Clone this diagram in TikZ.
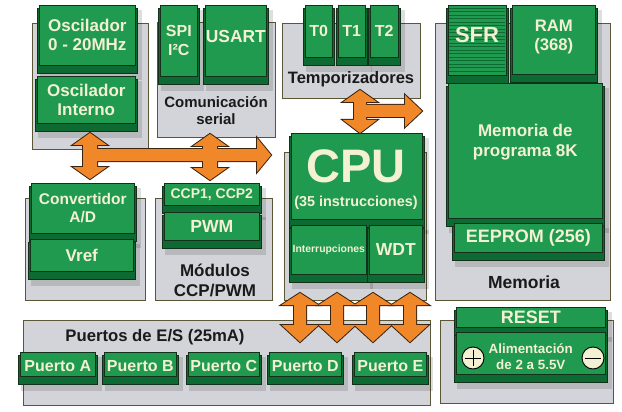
\documentclass[tikz,border=0pt]{standalone}
\usepackage{fontspec}
\setmainfont{Liberation Sans}
\definecolor{gface}{HTML}{1F9A4F}
\definecolor{gbody}{HTML}{0E6A33}
\definecolor{gline}{HTML}{12301A}
\definecolor{panelc}{HTML}{D3D4D9}
\definecolor{panelline}{HTML}{5A5636}
\definecolor{orangec}{HTML}{F0882A}
\definecolor{arrline}{HTML}{3A2410}
\definecolor{txtc}{HTML}{F3F1D2}
\definecolor{darktxt}{HTML}{1A1A1A}
\tikzset{
  panel/.style={draw=panelline, fill=panelc, line width=0.7pt, inner sep=0pt, anchor=north west},
  face/.style={draw=gline, fill=gface, line width=0.6pt, inner sep=0pt, anchor=north west},
  body/.style={draw=gline, fill=gbody, line width=0.6pt},
  bshadow/.style={fill=black, opacity=0.13},
  gtxt/.style={text=txtc, align=center, inner sep=0pt},
  ptxt/.style={text=darktxt, align=center, inner sep=0pt},
  arrout/.style={draw=arrline, line width=2pt, line join=miter},
  arrfill/.style={fill=orangec},
  sign/.style={circle, draw=black, line width=0.9pt, fill=txtc, minimum size=22pt, inner sep=0pt},
}
\newcommand\fs[2]{\fontsize{#1}{#2}\selectfont}
\newcommand\panelbox[5]{\node[panel, minimum width={#4-#2}, minimum height={#5-#3}] (#1) at (#2,#3) {};}
\newcommand\gblk[8][]{%
  \fill[bshadow] ({#3+3},{#4+5}) rectangle ({#5+5},{#6+7});
  \filldraw[body] (#3,{#4+3}) rectangle (#5,#6);
  \node[face, minimum width={#5-#3-4}, minimum height={#6-#4-8}] (#2) at ({#3+2},#4) {};
  \node[gtxt, font=\bfseries #7, #1] (#2-t) at (#2.center) {#8};
}
\newcommand\vdarr[7]{(#1,#2) -- ({#1+#6},#3) -- ({#1+#7},#3) -- ({#1+#7},#4) -- ({#1+#6},#4) -- (#1,#5) -- ({#1-#6},#4) -- ({#1-#7},#4) -- ({#1-#7},#3) -- ({#1-#6},#3) -- cycle}
\newcommand\harr[6]{(#1,{#2-#6}) -- (#3,{#2-#6}) -- (#3,{#2-#5}) -- (#4,#2) -- (#3,{#2+#5}) -- (#3,{#2+#6}) -- (#1,{#2+#6}) -- cycle}
\begin{document}
\begin{tikzpicture}[x=1pt,y=-1pt]
\useasboundingbox (0,0) rectangle (622,412);
% panels
\panelbox{posc}{32}{23}{148}{149}
\panelbox{pcom}{157}{22}{275}{137}
\panelbox{ptemp}{282}{23}{420}{98}
\panelbox{pmem}{435}{23}{610}{300}
\panelbox{pcpu}{284}{152}{426}{300}
\panelbox{pconv}{25}{198}{145}{300}
\panelbox{pccp}{155}{198}{272}{300}
\panelbox{pport}{23}{320}{430}{405}
\panelbox{preset}{440}{320}{613}{403}
% panel labels
\node[ptxt, font=\bfseries\fs{15}{17}] (lcom) at (216,111) {Comunicación\\serial};
\node[ptxt, font=\bfseries\fs{16.5}{18}] (ltemp) at (351,79) {Temporizadores};
\node[ptxt, font=\bfseries\fs{17.5}{19}] (lmem) at (524,282) {Memoria};
\node[ptxt, font=\bfseries\fs{17}{20}] (lccp) at (215,280) {Módulos\\CCP/PWM};
\node[ptxt, font=\bfseries\fs{16.7}{18}] (lport) at (155,337) {Puertos de E/S (25mA)};
% blocks
\gblk{osc1}{37}{5}{137}{73}{\fs{17}{19}}{Oscilador\\0 - 20MHz}
\gblk{osc2}{35}{76}{137}{131}{\fs{17}{19}}{Oscilador\\Interno}
\gblk{spi}{158}{5}{199}{84}{\fs{16}{19}}{SPI\\I²C}
\gblk[yshift=4pt]{usart}{203}{5}{268}{84}{\fs{17.4}{19}}{USART}
\gblk{t0}{303}{5}{334}{65}{\fs{16}{18}}{T0}
\gblk{t1}{336}{5}{367}{65}{\fs{16}{18}}{T1}
\gblk{t2}{368}{5}{400}{65}{\fs{16}{18}}{T2}
\gblk{sfr}{446}{5}{508}{83}{\fs{22}{24}}{}
\foreach \yy in {8,11.5,...,73} \draw[gbody, line width=0.9pt] (449,\yy) -- (505,\yy);
\node[gtxt, font=\bfseries\fs{22}{24}] (sfrtxt) at (477,35) {SFR};
\gblk[yshift=3pt]{ram}{510}{5}{597}{82}{\fs{16.7}{19}}{RAM\\(368)}
\gblk[yshift=9pt]{prog}{446}{83}{604}{226}{\fs{17}{20}}{Memoria de\\programa 8K}
\gblk{eeprom}{452}{223}{604}{260}{\fs{18}{20}}{EEPROM (256)}
\gblk{cpu}{289}{133}{424}{227}{\fs{14}{16}}{}
\node[gtxt, font=\bfseries\fs{47}{50}] (cputxt) at (356,166) {CPU};
\node[gtxt, font=\bfseries\fs{14.4}{16}] (instr) at (356,203) {(35 instrucciones)};
\gblk{intr}{289}{225}{368}{282}{\fs{10.4}{12}}{Interrupciones}
\gblk{wdt}{367}{225}{424}{282}{\fs{17.5}{19}}{WDT}
\gblk{conv}{29}{183}{136}{241}{\fs{15.5}{18}}{Convertidor\\A/D}
\gblk{vref}{28}{239}{135}{279}{\fs{17}{19}}{Vref}
\gblk{ccp}{162}{183}{261}{213}{\fs{14}{16}}{CCP1, CCP2}
\gblk{pwm}{162}{212}{261}{248}{\fs{17.6}{19}}{PWM}
\gblk[yshift=-2pt]{pa}{18}{352}{97}{384}{\fs{16}{18}}{Puerto A}
\gblk[yshift=-2pt]{pb}{102}{352}{178}{384}{\fs{16}{18}}{Puerto B}
\gblk[yshift=-2pt]{pc}{186}{352}{261}{384}{\fs{16}{18}}{Puerto C}
\gblk[yshift=-2pt]{pd}{267}{352}{343}{384}{\fs{16}{18}}{Puerto D}
\gblk[yshift=-2pt]{pe}{352}{352}{428}{384}{\fs{16}{18}}{Puerto E}
\gblk{reset}{454}{307}{607}{335}{\fs{18}{20}}{RESET}
\gblk[yshift=-3pt]{alim}{454}{332}{607}{382}{\fs{13.4}{16}}{Alimentación\\de 2 a 5.5V}
\node[sign] (plus) at (473,358) {};
\draw[line width=1pt] (plus.north) ++(0,-3pt) -- ([yshift=3pt]plus.south);
\draw[line width=1pt] ([xshift=3pt]plus.west) -- ([xshift=-3pt]plus.east);
\node[sign] (minus) at (593,358) {};
\draw[line width=1pt] ([xshift=3pt]minus.west) -- ([xshift=-3pt]minus.east);
% orange arrows
\foreach \st in {arrout,arrfill}{
  \path[\st] \vdarr{90}{133}{145}{167}{179}{17}{7};
  \path[\st] \vdarr{210}{134}{146}{168}{180}{17}{7};
  \path[\st] \harr{90}{155}{257}{271}{17}{6};
  \path[\st] \vdarr{360}{90}{102}{120}{133}{17}{6};
  \path[\st] \harr{360}{111}{405}{422}{16}{6};
  \path[\st] \vdarr{300}{293}{305}{325}{342}{18.5}{6};
  \path[\st] \vdarr{337}{293}{305}{325}{342}{18.5}{6};
  \path[\st] \vdarr{373}{293}{305}{325}{342}{18.5}{6};
  \path[\st] \vdarr{410}{293}{305}{325}{342}{18.5}{6};
}
\end{tikzpicture}
\end{document}
